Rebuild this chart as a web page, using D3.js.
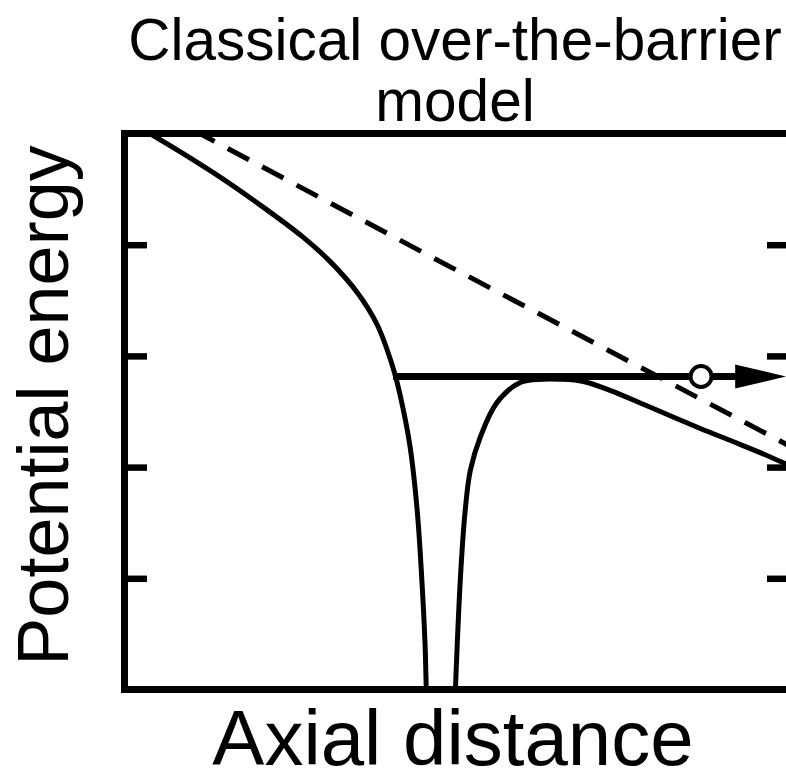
<!DOCTYPE html>
<html>
<head>
<meta charset="utf-8">
<script src="https://cdn.jsdelivr.net/npm/d3@7"></script>
<style>
  body { margin: 0; background: #fff; }
  text { font-family: "Liberation Sans", Arial, sans-serif; fill: #000; }
</style>
</head>
<body>
<div id="chart"></div>
<script>
// values (x: axial distance, y: potential energy, arbitrary units)
const titleLines = ["Classical over-the-barrier", "model"];
const xLabel = "Axial distance";
const yLabel = "Potential energy";
const yTicks = [1, 2, 3, 4];

// solid curve: left of the nucleus
const solidLeft = [[0.20, 5.06], [0.38, 5.0], [1.33, 4.65], [2.08, 4.34], [2.68, 4.07], [3.09, 3.85],
  [3.50, 3.57], [3.80, 3.28], [4.04, 2.89], [4.14, 2.66], [4.29, 2.20], [4.40, 1.62],
  [4.47, 1.00], [4.52, 0.40], [4.54, -0.09]];
// solid curve: right of the nucleus, over the barrier
const solidRight = [[4.97, -0.09], [5.05, 0.99], [5.12, 1.59], [5.20, 1.97], [5.35, 2.27],
  [5.60, 2.58], [5.95, 2.76], [6.29, 2.79], [6.55, 2.79], [6.90, 2.77], [7.30, 2.69],
  [7.90, 2.54], [8.65, 2.35], [9.15, 2.23], [9.56, 2.13], [10.01, 2.01]];
// dashed line: applied field only
const dashed = [[0, 5.36], [4.49, 3.93], [10, 2.19]];
// electron energy level and its path
const levelY = 2.815;
const levelStart = 4.04;
const levelEnd = 9.95;
const electronX = 8.67;

const W = 786, H = 782;
const margin = { left: 124.5, top: 133.5, right: -3.5, bottom: 92.5 };
const width = W - margin.left - margin.right;
const height = H - margin.top - margin.bottom;

const svg = d3.select("#chart")
  .append("svg")
    .attr("width", W)
    .attr("height", H);

const xscale = d3.scaleLinear().domain([0, 10]).range([0, width]);
const yscale = d3.scaleLinear().domain([0, 5]).range([height, 0]);

svg.append("defs")
  .append("clipPath")
    .attr("id", "plotClip")
  .append("rect")
    .attr("width", width)
    .attr("height", height);

const g = svg.append("g")
  .attr("transform", `translate(${margin.left},${margin.top})`);

const plot = g.append("g").attr("clip-path", "url(#plotClip)");

const curve = d3.line()
  .x(d => xscale(d[0]))
  .y(d => yscale(d[1]))
  .curve(d3.curveCatmullRom.alpha(0.5));

plot.append("path")
  .datum(dashed)
  .attr("fill", "none")
  .attr("stroke", "#000")
  .attr("stroke-width", 5)
  .style("stroke-dasharray", "24, 15")
  .attr("d", d3.line().x(d => xscale(d[0])).y(d => yscale(d[1])));

[solidLeft, solidRight].forEach(s => {
  plot.append("path")
    .datum(s)
    .attr("fill", "none")
    .attr("stroke", "#000")
    .attr("stroke-width", 5)
    .attr("stroke-linejoin", "round")
    .attr("d", curve);
});

// level line with arrow head
const headLen = 51, headHalf = 12;
const yl = yscale(levelY);
const tip = xscale(levelEnd);
plot.append("line")
  .attr("x1", xscale(levelStart))
  .attr("x2", tip - headLen + 2)
  .attr("y1", yl)
  .attr("y2", yl)
  .attr("stroke", "#000")
  .attr("stroke-width", 7);

plot.append("path")
  .attr("d", `M${tip},${yl} L${tip - headLen},${yl - headHalf} L${tip - headLen},${yl + headHalf} Z`)
  .attr("fill", "#000");

plot.append("circle")
  .attr("cx", xscale(electronX))
  .attr("cy", yl)
  .attr("r", 10.5)
  .attr("fill", "#fff")
  .attr("stroke", "#000")
  .attr("stroke-width", 4);

// frame and ticks
g.append("rect")
  .attr("width", width)
  .attr("height", height)
  .attr("fill", "none")
  .attr("stroke", "#000")
  .attr("stroke-width", 7);

const yAxisL = d3.axisLeft(yscale).tickValues(yTicks).tickSizeInner(-22.5).tickFormat("");
const yAxisR = d3.axisRight(yscale).tickValues(yTicks).tickSizeInner(-22.5).tickFormat("");

[[yAxisL, 0], [yAxisR, width]].forEach(([ax, x0]) => {
  const a = g.append("g")
    .attr("transform", `translate(${x0},0)`)
    .call(ax);
  a.select(".domain").remove();
  a.selectAll(".tick line")
    .attr("stroke", "#000")
    .attr("stroke-width", 6.5);
});

// texts
svg.append("text")
  .attr("x", 455)
  .attr("y", 60)
  .attr("text-anchor", "middle")
  .style("font-size", "58.5px")
  .selectAll("tspan")
  .data(titleLines)
  .enter().append("tspan")
    .attr("x", 455)
    .attr("dy", (d, i) => i ? 61 : 0)
    .text(d => d);

svg.append("text")
  .attr("x", 453)
  .attr("y", 765)
  .attr("text-anchor", "middle")
  .style("font-size", "78px")
  .text(xLabel);

svg.append("text")
  .attr("transform", `translate(68,${margin.top + height / 2 - 6}) rotate(-90)`)
  .attr("text-anchor", "middle")
  .style("font-size", "72px")
  .text(yLabel);
</script>
</body>
</html>
